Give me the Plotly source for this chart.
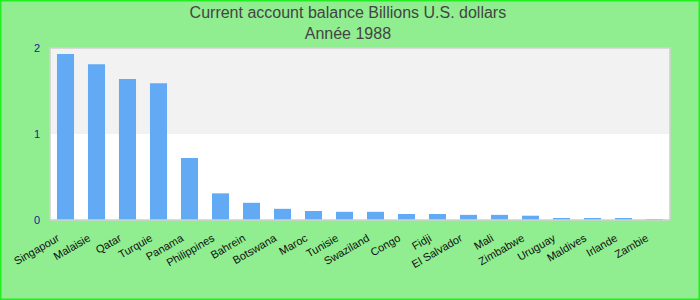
import plotly.graph_objects as go

countries = ["Singapour", "Malaisie", "Qatar", "Turquie", "Panama", "Philippines",
             "Bahrein", "Botswana", "Maroc", "Tunisie", "Swaziland", "Congo", "Fidji",
             "El Salvador", "Mali", "Zimbabwe", "Uruguay", "Maldives", "Irlande", "Zambie"]
values = [1.93, 1.81, 1.64, 1.59, 0.72, 0.31, 0.20, 0.13, 0.105, 0.095, 0.095, 0.07,
          0.07, 0.06, 0.06, 0.05, 0.02, 0.02, 0.02, 0.01]
y_ticks = [0, 1, 2]
title_lines = ["Current account balance Billions U.S. dollars", "Année 1988"]

ML, MR, MT, MB = 50, 30, 48, 80
W, H = 700, 300
pw, ph = W - ML - MR, H - MT - MB

fig = go.Figure(go.Bar(x=countries, y=values, marker=dict(color="#62aaf4", line=dict(width=0))))

fig.update_layout(
    width=W, height=H,
    margin=dict(l=ML, r=MR, t=MT, b=MB, pad=0),
    paper_bgcolor="#90ee90",
    plot_bgcolor="#ffffff",
    bargap=0.45,
    showlegend=False,
    font=dict(family="Liberation Sans, Arial, sans-serif"),
    title=dict(text="<br>".join(title_lines), x=0.497, xanchor="center",
               y=0.939, yanchor="top", yref="container",
               font=dict(size=16, color="#444444")),
    shapes=[
        dict(type="rect", xref="paper", yref="y", x0=0, x1=1, y0=1, y1=2,
             fillcolor="#f2f2f2", line=dict(width=0), layer="below"),
        dict(type="rect", xref="paper", yref="paper", x0=0, x1=1, y0=0, y1=1,
             line=dict(color="#d0d0d0", width=1.5), layer="above"),
        dict(type="rect", xref="paper", yref="paper",
             x0=-ML / pw + 0.5 / pw, x1=(pw + MR) / pw - 0.5 / pw,
             y0=-MB / ph + 0.5 / ph, y1=1 + MT / ph - 0.5 / ph,
             line=dict(color="#22ee22", width=2), layer="above"),
    ],
)
fig.update_xaxes(tickangle=-30, showgrid=False, showline=False, zeroline=False,
                 tickfont=dict(size=11, color="#111111"), ticklabelstandoff=9,
                 ticklabelshift=-8)
fig.update_yaxes(range=[0, 2], tickvals=y_ticks, showgrid=False, zeroline=False,
                 showline=False, tickfont=dict(size=11, color="#1a1a99"),
                 ticklabelstandoff=9)

fig.write_html("out.html")
